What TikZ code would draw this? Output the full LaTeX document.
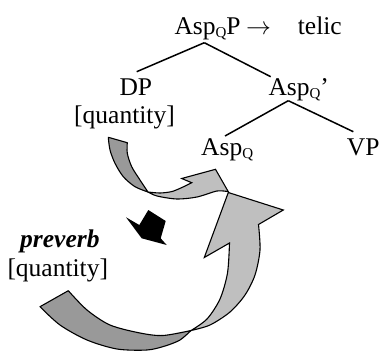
\documentclass[tikz,border=0pt]{standalone}
\usepackage{fontspec}
\setmainfont{Liberation Serif}
\usetikzlibrary{calc}
\newcommand{\qsb}{\raisebox{-3pt}{\fontsize{15}{15}\selectfont Q}}
\begin{document}
\begin{tikzpicture}[x=1pt,y=-1pt,
  lbl/.style={inner sep=0pt, anchor=base west, font=\fontsize{25.5}{30}\selectfont},
  tree/.style={line width=1.5pt},
  darkpart/.style={fill=black!40, draw=black, line width=1.1pt, line join=round},
  lightpart/.style={fill=black!25, draw=black, line width=1.1pt, line join=miter},
  blackarrow/.style={fill=black}]
\useasboundingbox (0,0) rectangle (383,351);

% tree labels
\node[lbl] (root) at (174.3,34) {Asp\qsb P};
\node[lbl] (arr) at (246,34) {$\rightarrow$};
\node[lbl] (telic) at (297.7,34) {telic};
\node[lbl] (dp) at (119.3,95) {DP};
\node[lbl] (q1) at (74,123.5) {[quantity]};
\node[lbl] (asp1) at (268.3,95) {Asp\qsb’};
\node[lbl] (asp0) at (201,155) {Asp\qsb};
\node[lbl] (vp) at (346.7,155) {VP};
\node[lbl, font=\fontsize{25.5}{30}\selectfont\bfseries\itshape] (pv) at (20,247.3) {preverb};
\node[lbl] (q2) at (7.3,276) {[quantity]};

% connection points
\coordinate (rootb) at ($(root.base west)+(30,8.7)$);
\coordinate (dpt) at ($(dp.base west)+(17.4,-23.3)$);
\coordinate (asp1t) at ($(asp1.base west)+(2.4,-18.3)$);
\coordinate (asp1b) at ($(asp1.base west)+(20,5.7)$);
\coordinate (asp0t) at ($(asp0.base west)+(24,-19)$);
\coordinate (vpt) at ($(vp.base west)+(6.6,-23.3)$);

\draw[tree] (rootb) -- (dpt);
\draw[tree] (rootb) -- (asp1t);
\draw[tree] (asp1b) -- (asp0t);
\draw[tree] (asp1b) -- (vpt);

% small curved arrow (DP -> Asp_Q)
\filldraw[darkpart] plot[smooth] coordinates {(108.3,137.3) (110,150) (115,163.3) (123.3,176.7) (135,186.7) (148,192)}
  -- plot[smooth] coordinates {(148,192) (140,180) (131.7,166.7) (127.3,153.3) (127.3,142.7)} -- cycle;
\filldraw[lightpart] plot[smooth] coordinates {(148,192) (157,196) (177,199) (197,197) (217,191) (228.3,191.7)}
  -- (215.5,169.3) -- (181.7,178.5) -- (191.7,182.7)
  -- plot[smooth] coordinates {(191.7,182.7) (183,187) (172,191.5) (160,193) (148,192)} -- cycle;

% big curved arrow (preverb -> Asp_Q)
\filldraw[darkpart] plot[smooth] coordinates {(191,330.5) (180,340) (165,346) (147,350) (117,349) (87,340) (60,325) (40,306.7)}
  -- (68.3,290.7)
  -- plot[smooth] coordinates {(68.3,290.7) (87,310) (110,325) (140,333) (163,335.5) (191,330.5)} -- cycle;
\filldraw[lightpart] plot[smooth] coordinates {(191,330.5) (207,319) (220,299) (227.5,273) (229.5,243)}
  -- (204.3,257.5) -- (228.3,192.5) -- (283.3,210) -- (258.5,224.5)
  -- plot[smooth] coordinates {(258.5,224.5) (260,250) (255,275) (245,295) (230,312) (210,325) (191,330.5)} -- cycle;

% black block arrow
\fill[blackarrow] (126,217.3) -- (139.3,225) -- (148.3,210) -- (165.7,221) -- (160.7,238.3) -- (166.7,245) -- (141.7,238.3) -- cycle;
\end{tikzpicture}
\end{document}
